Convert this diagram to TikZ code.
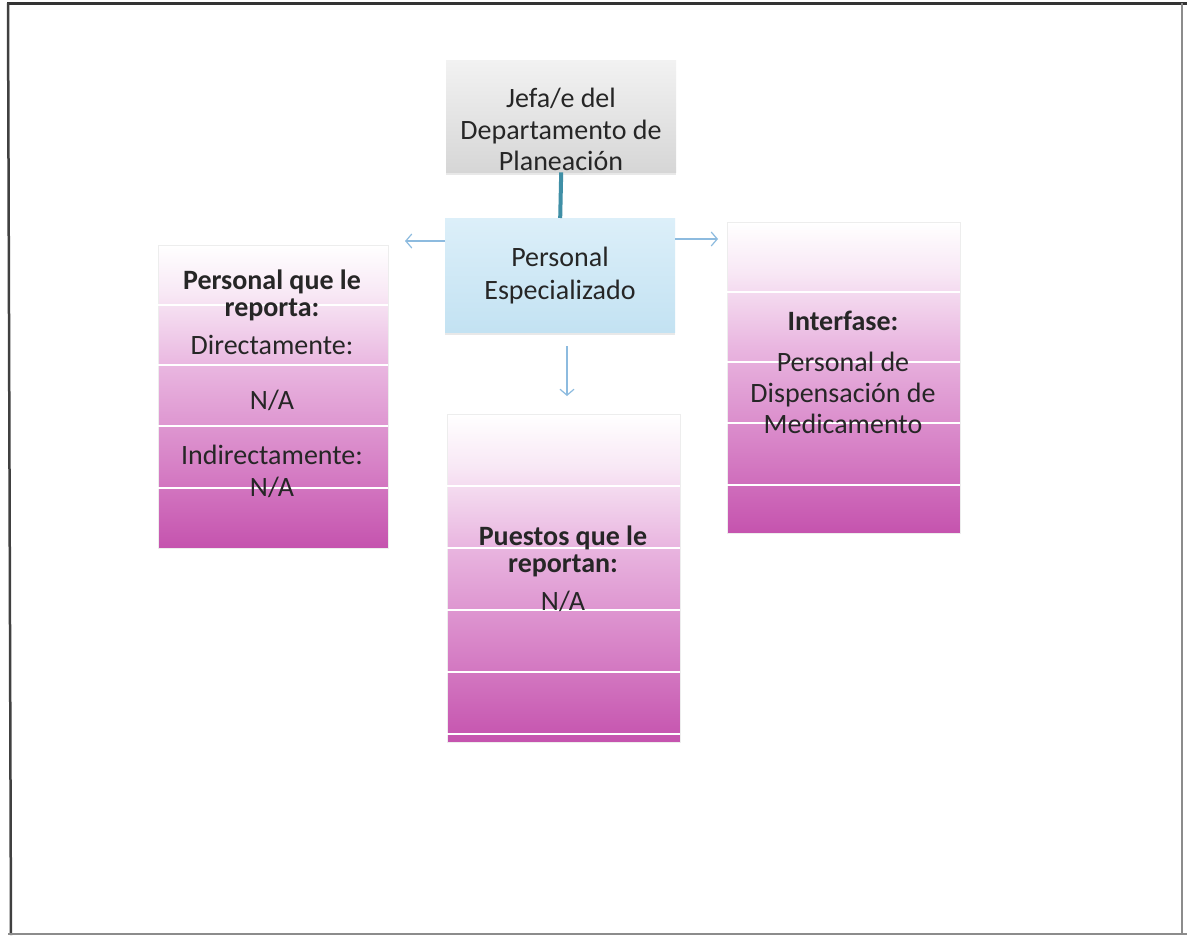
\documentclass[tikz,border=0pt]{standalone}
\usepackage{fontspec}
\setmainfont{Carlito}
\usetikzlibrary{arrows.meta,shadows}
\definecolor{txt}{HTML}{262626}
\definecolor{magb}{HTML}{C553AE}
\definecolor{magm}{HTML}{D885C8}
\definecolor{magl}{HTML}{E9B6E0}
\definecolor{magw}{HTML}{F8E8F5}
\definecolor{grayt}{HTML}{F2F2F2}
\definecolor{grayb}{HTML}{D6D6D6}
\definecolor{bluet}{HTML}{DCEFF9}
\definecolor{blueb}{HTML}{C3E2F2}
\definecolor{teal}{HTML}{3F8FA6}
\definecolor{arr}{HTML}{8DBBDF}
\pgfdeclareverticalshading{colshade}{100bp}{color(0bp)=(magb); color(25bp)=(magb); color(40bp)=(magm); color(55bp)=(magl); color(67bp)=(magw); color(75bp)=(white); color(100bp)=(white)}
\tikzset{
  lbl/.style={font=\fontsize{28}{31}\selectfont, text=txt, anchor=base, inner sep=0pt},
  blbl/.style={lbl, font=\fontsize{28}{31}\selectfont\bfseries},
  col/.style={draw=black!7, line width=0.6pt, shading=colshade, anchor=north west, inner sep=0pt, minimum width=#1},
  sep/.style={draw=white, line width=2.5pt},
  topbox/.style={anchor=north west, inner sep=0pt, minimum width=230pt, drop shadow={opacity=0.18, shadow xshift=0pt, shadow yshift=-3pt}},
  thinarrow/.style={draw=arr, line width=1.2pt, -{Straight Barb[length=6pt,width=14pt]}},
}
\begin{document}
\begin{tikzpicture}[x=1pt,y=-1pt]
\useasboundingbox (0,0) rectangle (1187,940);
\fill[white] (0,0) rectangle (1187,940);
% frame
\draw[black!80, line width=3pt] (7,3) -- (1187,3);
\draw[black!75, line width=2.5pt] (8,3) -- (11,935);
\draw[black!45, line width=1.5pt] (1182,3) -- (1182,935);
\draw[black!45, line width=1.5pt] (8,934) -- (1187,934);

% top boxes
\node[topbox, minimum height=112pt, top color=grayt, bottom color=grayb] (jefe) at (446,60) {};
\node[topbox, minimum height=114pt, top color=bluet, bottom color=blueb] (pers) at (445,218) {};
\draw[teal, line width=4pt] (jefe.south) -- (pers.north);

\node[lbl] (j1) at (561,107) {Jefa/e del};
\node[lbl] (j2) at (561,139) {Departamento de};
\node[lbl] (j3) at (561,170) {Planeación};
\node[lbl] (p1) at (560,266) {Personal};
\node[lbl] (p2) at (560,299) {Especializado};

% arrows
\coordinate (la) at (405,241);
\coordinate (ra) at (718,239);
\coordinate (ds) at (567,346);
\coordinate (de) at (567,396);
\draw[thinarrow] (pers.west |- la) -- (la);
\draw[thinarrow] (pers.east |- ra) -- (ra);
\draw[thinarrow] (ds) -- (de);

% left column
\node[col=230pt, minimum height=303pt] (left) at (158,245) {};
\foreach \yy in {305,365,426,488}{\draw[sep] (158,\yy) -- (388,\yy);}
\node[blbl] (l1) at (272,289) {Personal que le};
\node[blbl] (l2) at (272,316) {reporta:};
\node[lbl] (l3) at (272,354) {Directamente:};
\node[lbl] (l4) at (272,409) {N/A};
\node[lbl] (l5) at (272,464) {Indirectamente:};
\node[lbl] (l6) at (272,496) {N/A};

% right column
\node[col=233pt, minimum height=311pt] (right) at (727,222) {};
\foreach \yy in {292,362,423,485}{\draw[sep] (727,\yy) -- (960,\yy);}
\node[blbl] (r1) at (843,330) {Interfase:};
\node[lbl] (r2) at (843,371) {Personal de};
\node[lbl] (r3) at (843,402) {Dispensación de};
\node[lbl] (r4) at (843,433) {Medicamento};

% middle column
\node[col=233pt, minimum height=328pt] (mid) at (447,414) {};
\foreach \yy in {486,548,610,672,734}{\draw[sep] (447,\yy) -- (680,\yy);}
\node[blbl] (m1) at (563,545) {Puestos que le};
\node[blbl] (m2) at (563,572) {reportan:};
\node[lbl] (m3) at (563,610) {N/A};
\end{tikzpicture}
\end{document}
